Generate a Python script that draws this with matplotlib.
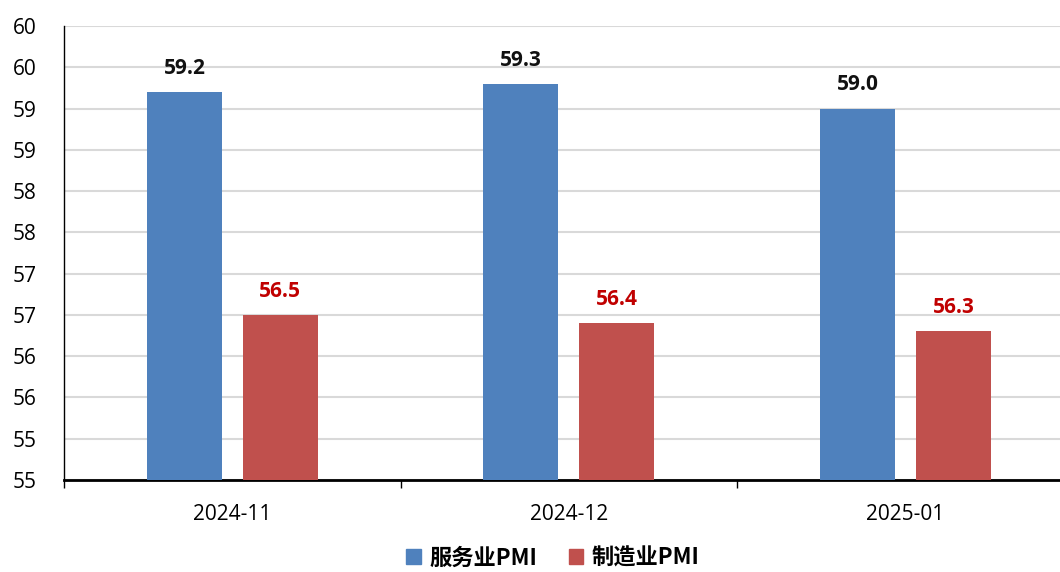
import matplotlib.pyplot as plt
import numpy as np
from matplotlib.ticker import FuncFormatter
from matplotlib.patches import Patch

months = ['2024-11', '2024-12', '2025-01']
service_pmi = [59.2, 59.3, 59.0]
manu_pmi = [56.5, 56.4, 56.3]
names = ['服务业PMI', '制造业PMI']

plt.rcParams['font.family'] = ['Open Sans', 'Noto Sans CJK SC', 'DejaVu Sans']

fig = plt.figure(figsize=(10.6, 5.72), dpi=100)
W, H = 1060, 572
ax = fig.add_axes([64 / W, 1 - 480 / H, 996 / W, (480 - 26) / H])

x = np.arange(len(months))
blue = '#4F81BD'
red = '#C0504D'
bw = 0.223
ax.bar(x - 0.142, service_pmi, width=bw, color=blue, zorder=3)
ax.bar(x + 0.143, manu_pmi, width=bw, color=red, zorder=3)

for i in range(len(months)):
    ax.text(x[i] - 0.142, service_pmi[i] + 0.16, f'{service_pmi[i]:.1f}', ha='center', va='bottom',
            fontsize=15, fontweight='bold', color='#111111')
    ax.text(x[i] + 0.143, manu_pmi[i] + 0.16, f'{manu_pmi[i]:.1f}', ha='center', va='bottom',
            fontsize=15, fontweight='bold', color='#C00000')

ax.set_yticks(np.arange(54.5, 60.01, 0.5))
ax.yaxis.set_major_formatter(FuncFormatter(lambda v, p: f'{int(np.floor(v + 0.5 + 1e-9))}'))

ax.set_xticks(x)
ax.set_xticklabels(months)
ax.set_xticks(np.arange(-0.5, 3, 1), minor=True)
ax.tick_params(axis='x', which='major', length=0, pad=17, labelsize=15)
ax.tick_params(axis='x', which='minor', length=6, direction='out', width=1, color='black')
ax.tick_params(axis='y', length=0, pad=20, labelsize=15)
ax.set_ylim(54.5, 60)
ax.set_xlim(-0.5, -0.5 + 996 / 336.5)

ax.grid(axis='y', color='#D9D9D9', linewidth=1.5, zorder=0)
for s in ['top', 'right']:
    ax.spines[s].set_visible(False)
ax.spines['left'].set_color('black')
ax.spines['left'].set_linewidth(1)
ax.spines['bottom'].set_color('black')
ax.spines['bottom'].set_linewidth(2)

handles = [Patch(color=blue), Patch(color=red)]
fig.legend(handles, names, loc='center', bbox_to_anchor=(553 / W, 1 - 558 / H), ncol=2, frameon=False,
           prop={'family': ['Noto Sans CJK SC'], 'weight': 'bold', 'size': 16},
           handlelength=0.65, handleheight=0.65, handletextpad=0.4, columnspacing=1.4,
           borderpad=0.2)

fig.savefig('out.png', dpi=100)
